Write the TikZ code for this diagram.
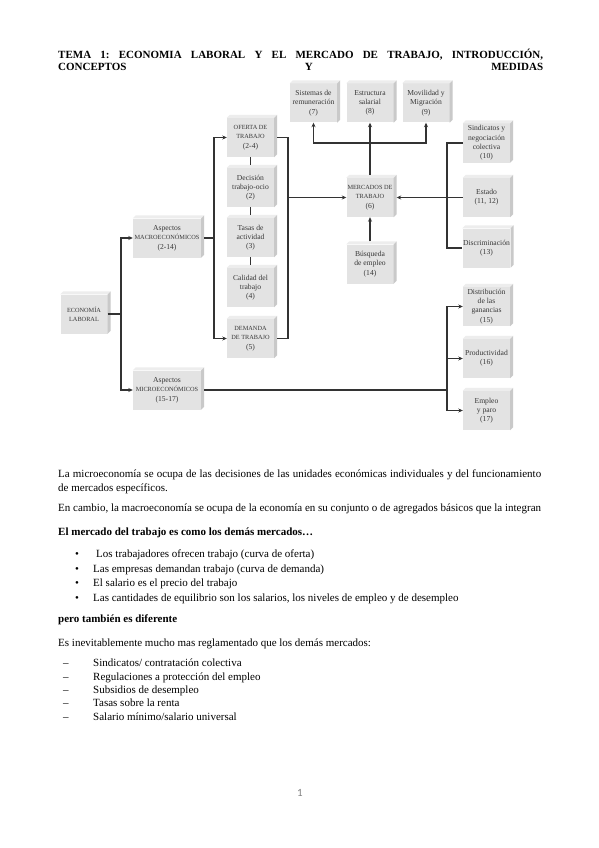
\documentclass[tikz,border=0pt]{standalone}
\usepackage{fontspec}
\setmainfont{Liberation Serif}
\newfontfamily\pgnumfont{Carlito}
\usetikzlibrary{arrows.meta}
\frenchspacing
\definecolor{boxface}{HTML}{E3E3E3}
\definecolor{boxtop}{HTML}{EDEDED}
\definecolor{boxside}{HTML}{C9C9C9}
\definecolor{lineC}{HTML}{333333}
\definecolor{txtgray}{HTML}{383838}
\newcommand\capsz[1]{{\fontsize{6.3}{9.3}\selectfont #1}}
\tikzset{
  cbox/.style={fill=boxface, minimum width=47pt, minimum height=39pt, inner sep=0.5pt,
    align=center, font=\fontsize{7.6}{9.3}\selectfont, text=txtgray},
  wbox/.style={cbox, minimum width=68pt},
  conn/.style={draw=lineC, line width=1.3pt},
  arr/.style={conn, -{Stealth[length=4.5pt,width=4pt]}},
  txt/.style={anchor=base west, inner sep=0pt, font=\fontsize{11}{13}\selectfont},
  btxt/.style={txt, font=\fontsize{11}{13}\selectfont\bfseries}
}
\begin{document}
\begin{tikzpicture}[x=1pt,y=-1pt]
\useasboundingbox[fill=white] (0,0) rectangle (599,848);
% title
\node[btxt] (t1) at (58,59) {\makebox[485pt][s]{TEMA 1: ECONOMIA LABORAL Y EL MERCADO DE TRABAJO, INTRODUCCIÓN,}};
\node[btxt] (t2) at (58,71) {\makebox[485pt][s]{CONCEPTOS \hfill Y \hfill MEDIDAS}};
% boxes
\node[cbox] (of) at (250.5,137.5) {\capsz{OFERTA DE}\\\capsz{TRABAJO}\\(2-4)};
\node[cbox] (de) at (250.5,187.5) {Decisión\\trabajo-ocio\\(2)};
\node[cbox] (ta) at (250.5,237.5) {Tasas de\\actividad\\(3)};
\node[cbox] (ca) at (250.5,287.5) {Calidad del\\trabajo\\(4)};
\node[cbox] (dm) at (250.5,338.5) {\capsz{DEMANDA}\\\capsz{DE TRABAJO}\\(5)};
\node[wbox] (ma) at (167,238) {Aspectos\\\capsz{MACROECONÓMICOS}\\(2-14)};
\node[wbox] (mi) at (167,390) {Aspectos\\\capsz{MICROECONÓMICOS}\\(15-17)};
\node[cbox] (ec) at (84,314) {\capsz{ECONOMÍA}\\\capsz{LABORAL}};
\node[cbox] (si) at (313.5,103) {Sistemas de\\remuneración\\(7)};
\node[cbox] (es) at (370,103) {Estructura\\salarial\\(8)};
\node[cbox] (mo) at (426,103) {Movilidad y\\Migración\\(9)};
\node[cbox] (me) at (370,197.5) {\capsz{MERCADOS DE}\\\capsz{TRABAJO}\\(6)};
\node[cbox] (bu) at (370,264) {Búsqueda\\de empleo\\(14)};
\node[cbox] (sn) at (486.5,143) {Sindicatos y\\negociación\\colectiva\\(10)};
\node[cbox] (st) at (486.5,197.5) {Estado\\(11, 12)};
\node[cbox] (dg) at (486.5,248) {Discriminación\\(13)};
\node[cbox] (dt) at (486.5,306.5) {Distribución\\de las\\ganancias\\(15)};
\node[cbox] (pr) at (486.5,358.5) {Productividad\\(16)};
\node[cbox] (em) at (486.5,410.5) {Empleo\\y paro\\(17)};
% bevels
\foreach \n in {of,de,ta,ca,dm,ma,mi,ec,si,es,mo,me,bu,sn,st,dg,dt,pr,em} {
  \fill[boxtop] (\n.north west) -- ++(3,-3) -- ([shift={(3,-3)}]\n.north east) -- (\n.north east) -- cycle;
  \fill[boxside] (\n.north east) -- ++(3,-3) -- ([shift={(3,-3)}]\n.south east) -- (\n.south east) -- cycle;
}
% coordinates
\coordinate (jl) at (121,314);
\coordinate (jm) at (214,238);
\coordinate (jc) at (288,197.5);
\coordinate (jt) at (370,143);
\coordinate (jr) at (447,197.5);
% connectors
\draw[conn] (ec.east) -- (jl);
\draw[arr] (jl) |- (ma.west);
\draw[arr] (jl) |- (mi.west);
\draw[conn] ([xshift=3pt]ma.east) -- (jm);
\draw[arr] (jm) |- (of.west);
\draw[arr] (jm) |- (dm.west);
\draw[conn] (of.south) -- ([yshift=3pt]de.north);
\draw[conn] (de.south) -- ([yshift=3pt]ta.north);
\draw[conn] (ta.south) -- ([yshift=3pt]ca.north);
\draw[conn] ([xshift=3pt]of.east) -| (jc) |- ([xshift=3pt]dm.east);
\draw[arr] (jc) -- (me.west);
\draw[conn] ([yshift=3pt]me.north) -- (jt);
\draw[arr] (jt) -- (es.south);
\draw[arr] (jt) -| (si.south);
\draw[arr] (jt) -| (mo.south);
\draw[arr] ([yshift=3pt]bu.north) -- (me.south);
\draw[conn] (sn.west) -| (jr) |- (dg.west);
\draw[arr] (st.west) -- ([xshift=3pt]me.east);
\draw[conn] ([xshift=3pt]mi.east) -- (mi.east -| jr);
\draw[arr] (mi.east -| jr) |- (dt.west);
\draw[arr] (mi.east -| jr) |- (pr.west);
\draw[arr] (mi.east -| jr) |- (em.west);
% body text
\node[txt] (p1) at (58,477) {\makebox[483pt][s]{La microeconomía se ocupa de las decisiones de las unidades económicas individuales y del funcionamiento}};
\node[txt] (p2) at (58,491) {de mercados específicos.};
\node[txt] (p3) at (58,511) {En cambio, la macroeconomía se ocupa de la economía en su conjunto o de agregados básicos que la integran};
\node[btxt] (h1) at (58,535) {El mercado del trabajo es como los demás mercados…};
\node[txt] (b1) at (75,557) {•};
\node[txt] (b1t) at (96,557) {Los trabajadores ofrecen trabajo (curva de oferta)};
\node[txt] (b2) at (75,572) {•};
\node[txt] (b2t) at (93,572) {Las empresas demandan trabajo (curva de demanda)};
\node[txt] (b3) at (75,586) {•};
\node[txt] (b3t) at (93,586) {El salario es el precio del trabajo};
\node[txt] (b4) at (75,601) {•};
\node[txt] (b4t) at (93,601) {Las cantidades de equilibrio son los salarios, los niveles de empleo y de desempleo};
\node[btxt] (h2) at (58,622) {pero también es diferente};
\node[txt] (p4) at (58,646) {Es inevitablemente mucho mas reglamentado que los demás mercados:};
\node[txt] (d1) at (63,666) {–};
\node[txt] (d1t) at (93,666) {Sindicatos/ contratación colectiva};
\node[txt] (d2) at (63,680) {–};
\node[txt] (d2t) at (93,680) {Regulaciones a protección del empleo};
\node[txt] (d3) at (63,693) {–};
\node[txt] (d3t) at (93,693) {Subsidios de desempleo};
\node[txt] (d4) at (63,706) {–};
\node[txt] (d4t) at (93,706) {Tasas sobre la renta};
\node[txt] (d5) at (63,720) {–};
\node[txt] (d5t) at (93,720) {Salario mínimo/salario universal};
\node[anchor=base, inner sep=0pt, font=\pgnumfont\fontsize{11}{13}\selectfont, text=gray] (pn) at (300,796) {1};
\end{tikzpicture}
\end{document}
